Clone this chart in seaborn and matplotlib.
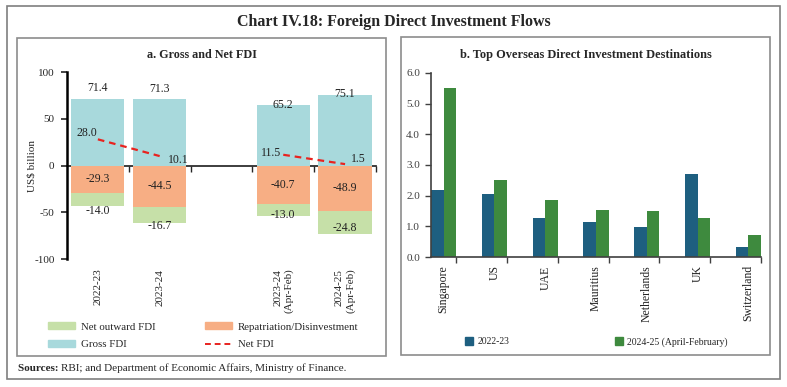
import pandas as pd
import matplotlib.pyplot as plt
import seaborn as sns
from matplotlib.patches import Rectangle, Patch
from matplotlib.lines import Line2D

# panel a data (US$ billion)
periods = ["2022-23", "2023-24", " ", "2023-24\n(Apr-Feb)", "2024-25\n(Apr-Feb)"]
fdi_periods = ["2022-23", "2023-24", "2023-24\n(Apr-Feb)", "2024-25\n(Apr-Feb)"]
gross_fdi = [71.4, 71.3, 65.2, 75.1]
repatriation = [-29.3, -44.5, -40.7, -48.9]
net_outward = [-14.0, -16.7, -13.0, -24.8]
net_fdi = [28.0, 10.1, 11.5, 1.5]
net_segments = [0, 0, 1, 1]

# panel b data (US$ billion)
countries = ["Singapore", "US", "UAE", "Mauritius", "Netherlands", "UK", "Switzerland"]
odi_2223 = [2.2, 2.05, 1.28, 1.13, 0.98, 2.72, 0.32]
odi_2425 = [5.5, 2.52, 1.87, 1.54, 1.50, 1.27, 0.73]
series_names = ["2022-23", "2024-25 (April-February)"]

c_green = "#c6e0a8"
c_salmon = "#f7ae84"
c_teal = "#a8d9dc"
c_red = "#e8231f"
c_blue = "#1e5f80"
c_dgreen = "#3e8a3e"

sns.set_theme(style="white")
plt.rcParams["font.family"] = ["Liberation Serif", "DejaVu Serif"]
plt.rcParams["font.size"] = 8
plt.rcParams["axes.unicode_minus"] = False

fig = plt.figure(figsize=(7.87, 3.87), dpi=100)

# frames
fig.patches.append(Rectangle((0.0089, 0.0207), 0.982, 0.964, transform=fig.transFigure,
                             fill=False, ec="#7f7f7f", lw=1.2))
fig.patches.append(Rectangle((0.0216, 0.0801), 0.4689, 0.8217, transform=fig.transFigure,
                             fill=False, ec="#8c8c8c", lw=1.2))
fig.patches.append(Rectangle((0.5095, 0.0827), 0.4689, 0.8217, transform=fig.transFigure,
                             fill=False, ec="#8c8c8c", lw=1.2))

fig.text(0.5, 0.943, "Chart IV.18: Foreign Direct Investment Flows", ha="center", va="center",
         fontsize=11.5, fontweight="bold")
fig.text(0.0216 + 0.4689 / 2, 0.858, "a. Gross and Net FDI", ha="center", va="center",
         fontsize=8.7, fontweight="bold")
fig.text(0.5095 + 0.4689 / 2, 0.858, "b. Top Overseas Direct Investment Destinations",
         ha="center", va="center", fontsize=8.9, fontweight="bold")
src = fig.text(0.023, 0.049, "Sources: ", ha="left", va="center", fontsize=8, fontweight="bold")
r = fig.canvas.get_renderer()
src_end = fig.transFigure.inverted().transform(src.get_window_extent(r))[1][0]
fig.text(src_end, 0.049, "RBI; and Department of Economic Affairs, Ministry of Finance.",
         ha="left", va="center", fontsize=8)

# ---------------- panel a ----------------
ax1 = fig.add_axes([0.0851, 0.3307, 0.3926, 0.4832])
df_a = pd.DataFrame({"period": fdi_periods, "gross": gross_fdi, "repat": repatriation,
                     "outward": net_outward, "net": net_fdi, "seg": net_segments})
df_a["neg_total"] = df_a["repat"] + df_a["outward"]
df_a["pos"] = [periods.index(p) for p in df_a["period"]]

sns.barplot(data=df_a, x="period", y="gross", order=periods, color=c_teal, saturation=1,
            width=0.86, errorbar=None, linewidth=0, ax=ax1)
sns.barplot(data=df_a, x="period", y="neg_total", order=periods, color=c_green, saturation=1,
            width=0.86, errorbar=None, linewidth=0, ax=ax1)
sns.barplot(data=df_a, x="period", y="repat", order=periods, color=c_salmon, saturation=1,
            width=0.86, errorbar=None, linewidth=0, ax=ax1)

for seg, g in df_a.groupby("seg"):
    ax1.plot(g["pos"], g["net"], color=c_red, lw=1.6, ls=(0, (3, 2.2)), zorder=5)

lbl = dict(ha="center", va="center", fontsize=8.5, color="#222222")
gross_off = [11, 11, 0, 1]
for p, v, o in zip(df_a["pos"], df_a["gross"], gross_off):
    ax1.text(p, v + o, f"{v:.1f}", **lbl)
net_dx = [-0.18, 0.3, -0.2, 0.22]
net_dy = [7, -4, 1.5, 5]
for p, v, dx, dy in zip(df_a["pos"], df_a["net"], net_dx, net_dy):
    ax1.text(p + dx, v + dy, f"{v:.1f}", **lbl)
for p, v in zip(df_a["pos"], df_a["repat"]):
    ax1.text(p, v / 2, f"{v:.1f}", **lbl)
out_off = [-5, -3, 1, 7]
for p, r_, v, o in zip(df_a["pos"], df_a["repat"], df_a["outward"], out_off):
    ax1.text(p, r_ + v + o, f"{v:.1f}", **lbl)

ax1.set_ylim(-100, 100)
ax1.set_xlim(-0.5, 4.5)
ax1.set_yticks([-100, -50, 0, 50, 100])
ax1.set_xlabel("")
ax1.set_ylabel("US$ billion", fontsize=8, labelpad=-2)
ax1.set_xticks(range(len(periods)))
ax1.set_xticklabels(periods, rotation=90, va="top", ha="center", multialignment="right")
ax1.tick_params(axis="x", length=0, pad=7, labelsize=8)
ax1.tick_params(axis="y", length=4, width=1.2, direction="out", left=True, pad=5, labelsize=8)
for s in ["top", "right", "bottom"]:
    ax1.spines[s].set_visible(False)
ax1.spines["left"].set_color("black")
ax1.spines["left"].set_linewidth(1.8)

zero_ax = ax1.secondary_xaxis(0.5)
zero_ax.set_xticks([0.5, 1.5, 2.5, 3.5, 4.5])
zero_ax.tick_params(axis="x", length=4, width=1, direction="out", labelbottom=False,
                    labeltop=False, bottom=True, top=False)
zero_ax.spines["bottom"].set_linewidth(1.8)
zero_ax.spines["bottom"].set_color("black")

legend_a = [Patch(color=c_green, label="Net outward FDI"),
            Patch(color=c_teal, label="Gross FDI"),
            Patch(color=c_salmon, label="Repatriation/Disinvestment"),
            Line2D([], [], color=c_red, lw=1.4, ls=(0, (3, 2)), label="Net FDI")]
fig.legend(handles=legend_a, ncol=2, loc="upper left", bbox_to_anchor=(0.056, 0.178),
           frameon=False, fontsize=7.8, handlelength=2.5, handleheight=0.55,
           handletextpad=0.5, columnspacing=4.6, labelspacing=0.8, borderaxespad=0)

# ---------------- panel b ----------------
ax2 = fig.add_axes([0.5477, 0.3359, 0.4193, 0.4755])
df_b = pd.DataFrame({"country": countries * 2,
                     "value": odi_2223 + odi_2425,
                     "period": [series_names[0]] * len(countries) + [series_names[1]] * len(countries)})
sns.barplot(data=df_b, x="country", y="value", hue="period", order=countries,
            hue_order=series_names, palette=[c_blue, c_dgreen], saturation=1, width=0.5,
            errorbar=None, linewidth=0, legend=False, ax=ax2)
ax2.set_xlim(-0.25, len(countries) - 0.75)
ax2.set_ylim(0, 6)
ax2.set_yticks([0, 1, 2, 3, 4, 5, 6])
ax2.set_yticklabels([f"{v:.1f}" for v in [0, 1, 2, 3, 4, 5, 6]])
ax2.set_xlabel("")
ax2.set_ylabel("")
ax2.set_xticks(range(len(countries)))
ax2.set_xticklabels(countries, rotation=90, va="top", ha="center")
ax2.set_xticks([i + 0.25 for i in range(len(countries))], minor=True)
ax2.tick_params(axis="x", which="major", length=0, pad=6, labelsize=8.5, labelcolor="#222222")
ax2.tick_params(axis="x", which="minor", length=4, width=1, direction="out", bottom=True,
                color="#404040")
ax2.tick_params(axis="y", length=4, width=1, direction="out", left=True, pad=4,
                labelsize=8, labelcolor="#404040", color="#404040")
for s in ["top", "right"]:
    ax2.spines[s].set_visible(False)
for s in ["left", "bottom"]:
    ax2.spines[s].set_color("#404040")
    ax2.spines[s].set_linewidth(1.2)

legend_b = [Patch(color=c_blue, label=series_names[0]),
            Patch(color=c_dgreen, label=series_names[1])]
fig.legend(handles=legend_b, ncol=2, loc="center left", bbox_to_anchor=(0.586, 0.117),
           frameon=False, fontsize=7, handlelength=0.85, handleheight=0.85,
           handletextpad=0.45, columnspacing=10.8, borderaxespad=0)

fig.savefig("out.png", dpi=100)
